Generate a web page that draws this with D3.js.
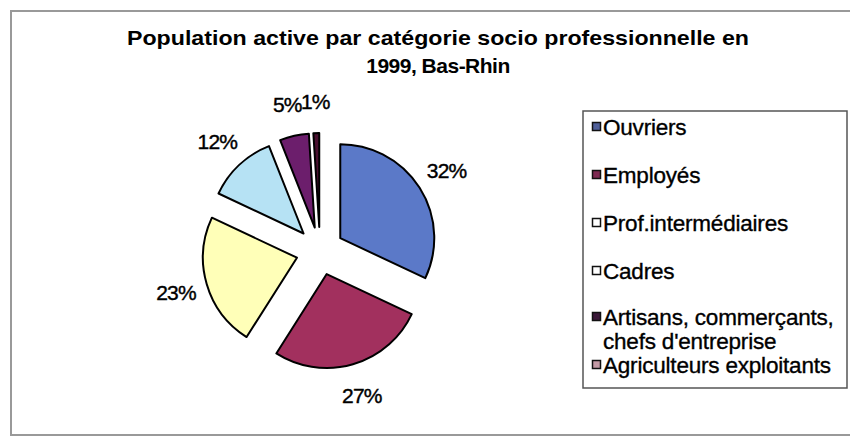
<!DOCTYPE html>
<html>
<head>
<meta charset="utf-8">
<script src="https://cdn.jsdelivr.net/npm/d3@7"></script>
<style>
  body { margin: 0; background: #fff; }
  svg { display: block; font-family: "Liberation Sans", Arial, sans-serif; }
</style>
</head>
<body>
<svg width="850" height="438"></svg>
<script>
// data
const categories = ['Ouvriers', 'Employés', 'Prof.intermédiaires', 'Cadres',
  'Artisans, commerçants, chefs d\'entreprise', 'Agriculteurs exploitants'];
const percents = [32, 27, 23, 12, 5, 1];
const legendLines = [['Ouvriers'], ['Employés'], ['Prof.intermédiaires'], ['Cadres'],
  ['Artisans, commerçants,', 'chefs d\'entreprise'], ['Agriculteurs exploitants']];
const titleLines = ['Population active par catégorie socio professionnelle en', '1999, Bas-Rhin'];

const sliceColors = ['#5b79c8', '#a2305e', '#ffffb8', '#b6e2f4', '#6c1e6c', '#4a1030'];
const legendColors = ['#4f5f99', '#7e2a52', '#ffffff', '#ffffff', '#3a1838', '#c49aa6'];

const svg = d3.select('svg');

// outer frame
svg.append('rect')
  .attr('x', 11).attr('y', 11)
  .attr('width', 860).attr('height', 424)
  .attr('fill', 'none')
  .attr('stroke', '#999')
  .attr('stroke-width', 2);

// title
svg.append('text')
  .attr('x', 438).attr('y', 45)
  .attr('text-anchor', 'middle')
  .attr('font-size', 21).attr('font-weight', 'bold')
  .attr('textLength', 622).attr('lengthAdjust', 'spacingAndGlyphs')
  .text(titleLines[0]);
svg.append('text')
  .attr('x', 438).attr('y', 73)
  .attr('text-anchor', 'middle')
  .attr('font-size', 21).attr('font-weight', 'bold')
  .attr('letter-spacing', -0.5)
  .text(titleLines[1]);

// pie
const cx = 320, cy = 251, R = 94, explode = 24;
const pie = d3.pie().sort(null).value(d => d)(percents);
const arc = d3.arc().innerRadius(0).outerRadius(R);
const labelArc = d3.arc().innerRadius(150).outerRadius(150);

const g = svg.append('g').attr('transform', `translate(${cx},${cy})`);

g.selectAll('.slice')
  .data(pie)
  .enter()
  .append('path')
  .attr('class', 'slice')
  .attr('d', arc)
  .attr('transform', d => {
    const a = (d.startAngle + d.endAngle) / 2;
    return `translate(${explode * Math.sin(a)},${-explode * Math.cos(a)})`;
  })
  .attr('fill', (d, i) => sliceColors[i])
  .attr('stroke', '#000')
  .attr('stroke-width', 2)
  .attr('stroke-linejoin', 'round');

g.selectAll('.lbl')
  .data(pie)
  .enter()
  .append('text')
  .attr('class', 'lbl')
  .attr('transform', d => `translate(${labelArc.centroid(d)})`)
  .attr('dy', '0.36em')
  .attr('text-anchor', 'middle')
  .attr('font-size', 21)
  .attr('letter-spacing', -0.8)
  .attr('stroke', '#000').attr('stroke-width', 0.4)
  .text(d => d.data + '%');

// legend
const lx = 583, ly = 111, lw = 264, lh = 277;
svg.append('rect')
  .attr('x', lx).attr('y', ly)
  .attr('width', lw).attr('height', lh)
  .attr('fill', '#fff')
  .attr('stroke', '#555')
  .attr('stroke-width', 1.5);

const rowY = [127, 175, 223, 271, 317, 365];
const leg = svg.selectAll('.leg')
  .data(categories)
  .enter()
  .append('g')
  .attr('class', 'leg')
  .attr('transform', (d, i) => `translate(${lx},${rowY[i]})`);

leg.append('rect')
  .attr('x', 9.5).attr('y', -4.5)
  .attr('width', 8).attr('height', 8)
  .attr('fill', (d, i) => legendColors[i])
  .attr('stroke', '#111')
  .attr('stroke-width', 1.5);

// one text per line, wrapped entries stacked 24px apart
leg.each(function(d, i) {
  const row = d3.select(this);
  legendLines[i].forEach((line, j) => {
    row.append('text')
      .attr('x', 20).attr('y', 8 + j * 24)
      .attr('font-size', 22.5)
      .attr('letter-spacing', -0.2)
      .attr('stroke', '#000').attr('stroke-width', 0.35)
      .text(line);
  });
});
</script>
</body>
</html>
